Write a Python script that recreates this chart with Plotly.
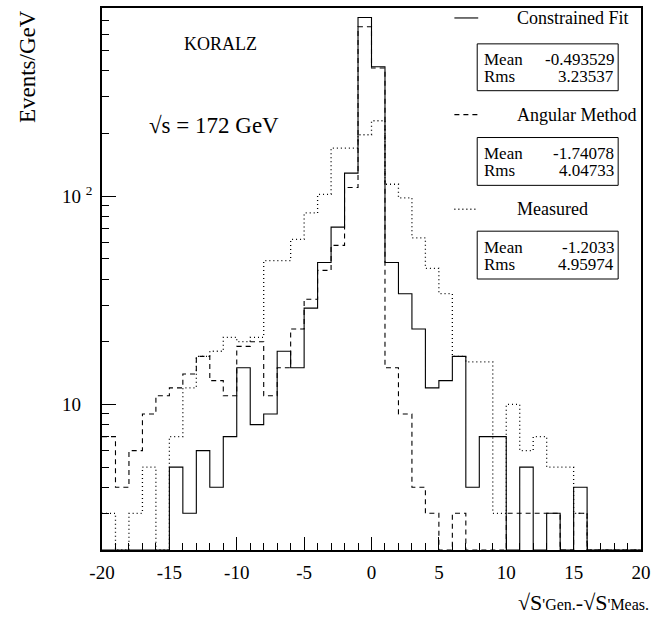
import numpy as np
import plotly.graph_objects as go

# ---- data (bins of 1 GeV from -20 to 20) ----
bin_edges = list(range(-20, 21))
constrained_fit = [0, 0, 0, 0, 0, 5, 3, 6, 4, 7,
                   15, 8, 9, 18, 15, 29, 48, 71, 129, 720,
                   418, 48, 34, 23, 12, 13, 17, 4, 7, 7,
                   0, 5, 0, 3, 0, 4, 0, 0, 0, 0]
angular_method = [7, 4, 6, 9, 11, 12, 14, 17, 13, 11,
                  19, 20, 11, 15, 23, 32, 44, 58, 110, 650,
                  412, 15, 9, 4, 3, 0, 3, 0, 0, 0,
                  3, 3, 3, 3, 0, 3, 0, 0, 0, 0]
measured = [3, 0, 3, 5, 0, 7, 12, 17, 18, 21,
            20, 21, 49, 49, 62, 83, 102, 170, 170, 197,
            230, 114, 98, 63, 45, 34, 17, 16, 16, 3,
            10, 6, 7, 5, 5, 3, 0, 0, 0, 0]
series_names = ["Constrained Fit", "Angular Method", "Measured"]
means = ["-0.493529", "-1.74078", "-1.2033"]
rmss = ["3.23537", "4.04733", "4.95974"]
x_ticks = [-20, -15, -10, -5, 0, 5, 10, 15, 20]
x_ticktext = ["-20", "-15", "-10", "-5", "0", "5", "10", "15", "20"]
y_ticks = [10, 100]
y_ticktext = ["10 <sup><span style='color:rgba(0,0,0,0)'>2</span></sup>", "10 <sup>2</sup>"]
y_minor = [2, 3, 4, 5, 6, 7, 8, 9, 20, 30, 40, 50, 60, 70, 80, 90, 200, 300, 400, 500, 600, 700, 800]
YMIN, YMAX = 2.0, 800.0

W, H = 657, 624
L, R, T, B = 102, 12, 6, 74
PW, PH = W - L - R, H - T - B
FONT = "Liberation Serif"


def px(xp):
    return (xp - L) / PW


def py(yp):
    return (H - B - yp) / PH


styles = [dict(color="black", width=1.1, dash="solid"),
          dict(color="black", width=1.1, dash="5px,4px"),
          dict(color="black", width=1.3, dash="1px,3px")]

fig = go.Figure()
for name, vals, st in zip(series_names, [constrained_fit, angular_method, measured], styles):
    v = np.maximum(np.array(vals, dtype=float), YMIN)
    yv = list(v) + [v[-1]]
    fig.add_trace(go.Scatter(x=bin_edges, y=yv, mode="lines", line=dict(shape="hv", **st),
                             name=name, showlegend=False))

shapes = []
annotations = []
leg_y = [16, 113, 208]
box_y = [(42, 89), (136, 184), (230, 278)]
for i in range(3):
    shapes.append(dict(type="line", xref="paper", yref="paper", x0=px(457), x1=px(481),
                       y0=py(leg_y[i]), y1=py(leg_y[i]), line=styles[i]))
    annotations.append(dict(text=series_names[i], xref="paper", yref="paper", x=px(518), y=py(leg_y[i]),
                            xanchor="left", yanchor="middle", showarrow=False,
                            font=dict(family=FONT, size=18, color="black")))
    y0, y1 = box_y[i]
    shapes.append(dict(type="rect", xref="paper", yref="paper", x0=px(480), x1=px(622),
                       y0=py(y0), y1=py(y1), line=dict(color="black", width=1)))
    for lab, val, yy in [("Mean", means[i], y0 + 16), ("Rms", rmss[i], y0 + 33)]:
        annotations.append(dict(text=lab, xref="paper", yref="paper", x=px(485), y=py(yy),
                                xanchor="left", yanchor="middle", showarrow=False,
                                font=dict(family=FONT, size=17, color="black")))
        annotations.append(dict(text=val, xref="paper", yref="paper", x=px(620), y=py(yy),
                                xanchor="right", yanchor="middle", showarrow=False,
                                font=dict(family=FONT, size=17, color="black")))

annotations.append(dict(text="KORALZ", xref="paper", yref="paper", x=px(221), y=py(42),
                        xanchor="center", yanchor="middle", showarrow=False,
                        font=dict(family=FONT, size=18, color="black")))
annotations.append(dict(text="√s = 172 GeV", xref="paper", yref="paper", x=px(147), y=py(124),
                        xanchor="left", yanchor="middle", showarrow=False,
                        font=dict(family=FONT, size=23, color="black")))
annotations.append(dict(text="Events/GeV", xref="paper", yref="paper", x=px(27), y=py(6),
                        xanchor="center", yanchor="top", textangle=-90, showarrow=False,
                        font=dict(family=FONT, size=23, color="black")))
annotations.append(dict(text="√S<span style='font-size:16px'>'Gen.</span>-√S<span style='font-size:16px'>'Meas.</span>",
                        xref="paper", yref="paper", x=px(655), y=py(603),
                        xanchor="right", yanchor="middle", showarrow=False,
                        font=dict(family=FONT, size=22, color="black")))

fig.update_layout(
    width=W, height=H, margin=dict(l=L, r=R, t=T, b=B),
    paper_bgcolor="white", plot_bgcolor="white",
    font=dict(family=FONT, color="black"),
    shapes=shapes, annotations=annotations, showlegend=False,
    xaxis=dict(range=[-20, 20], tickmode="array", tickvals=x_ticks, ticktext=x_ticktext,
               ticks="inside", ticklen=13,
               tickcolor="black", tickwidth=1, showline=True, mirror=True, linecolor="black",
               linewidth=1.5, showgrid=False, zeroline=False, ticklabelstandoff=4,
               tickfont=dict(family=FONT, size=19, color="black"),
               minor=dict(ticks="inside", ticklen=7, dtick=1, tick0=0, tickcolor="black", showgrid=False)),
    yaxis=dict(type="log", range=[np.log10(YMIN), np.log10(YMAX)], tickmode="array", tickvals=y_ticks,
               ticktext=y_ticktext, ticks="inside", ticklen=14, tickcolor="black", showline=True,
               mirror=True, linecolor="black", linewidth=1.5, showgrid=False, zeroline=False,
               ticklabelstandoff=4,
               tickfont=dict(family=FONT, size=19, color="black"),
               minor=dict(ticks="inside", ticklen=7, tickmode="array", tickvals=y_minor,
                          tickcolor="black", showgrid=False)),
)

fig.write_html("out.html", config={"displayModeBar": False},
               post_script="document.body.style.margin='0';document.body.style.overflow='hidden';")
